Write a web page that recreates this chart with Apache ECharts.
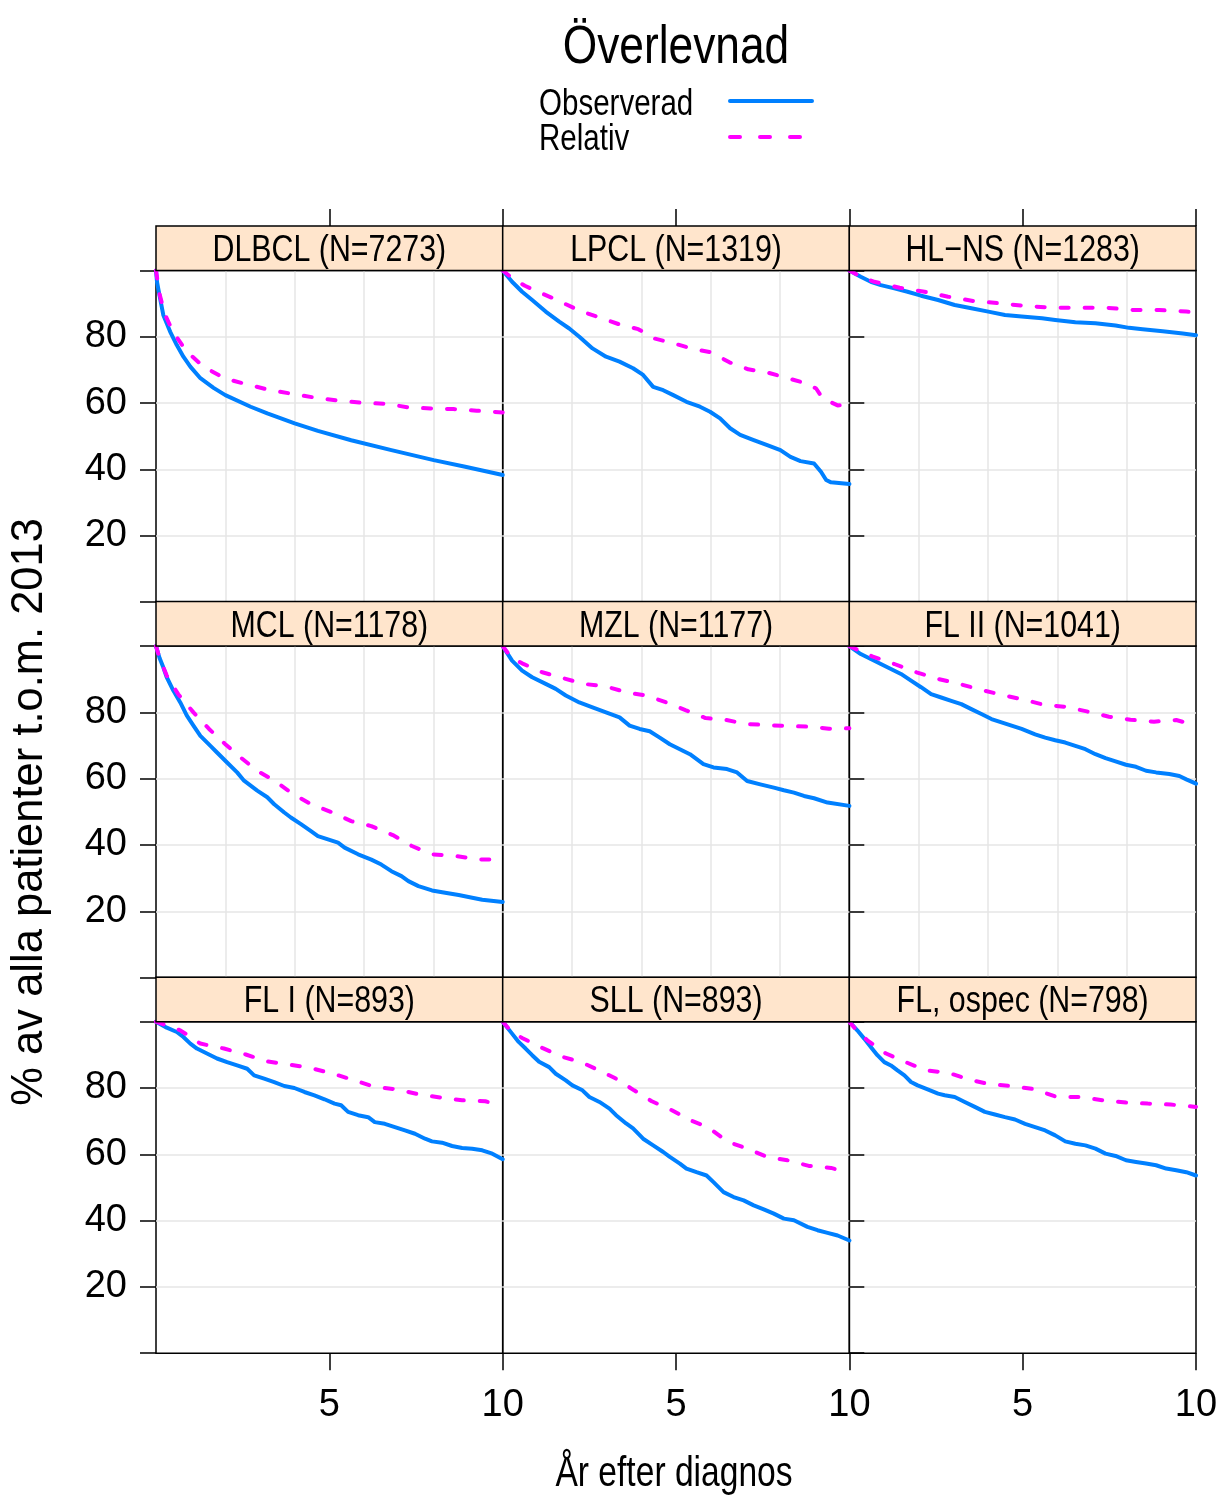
<!DOCTYPE html>
<html><head><meta charset="utf-8">
<script src="https://cdn.jsdelivr.net/npm/echarts@6.0.0/dist/echarts.min.js"></script>
<style>html,body{margin:0;padding:0;background:#fff}#chart{width:1218px;height:1495px}</style>
</head><body><div id="chart"></div>
<script>
// ---------- data ----------
const chartTitle = 'Överlevnad';
const legendNames = ['Observerad', 'Relativ'];
const xTitle = 'År efter diagnos';
const yTitle = '% av alla patienter t.o.m. 2013';
const panelLabels = ['DLBCL (N=7273)', 'LPCL (N=1319)', 'HL\u2212NS (N=1283)',
                     'MCL (N=1178)', 'MZL (N=1177)', 'FL II (N=1041)',
                     'FL I (N=893)', 'SLL (N=893)', 'FL, ospec (N=798)'];
const xTickValues = [5, 10];
const yTickValues = [20, 40, 60, 80];

const dlbclObserved = [[0,100],[0.03,96.5],[0.1,92.6],[0.21,86.6],[0.41,81.5],[0.6,77.5],[0.79,74],[0.99,71],[1.28,67.5],[1.66,64.6],[2,62.4],[2.73,58.9],[3.21,56.9],[4,53.9],[4.67,51.6],[5.63,48.8],[6.79,45.8],[8.01,42.8],[8.92,40.8],[10,38.3]];
const dlbclRelative = [[0,100],[0.1,93],[0.25,87],[0.48,81.7],[0.87,75.7],[1.37,71],[1.97,67.5],[2.57,65.8],[3.25,64],[3.93,62.8],[4.61,61.6],[5.28,60.7],[5.96,60.1],[6.64,59.8],[7.28,58.7],[7.92,58.4],[8.58,58.2],[9.25,57.7],[10,57.2]];
const lpclObserved = [[0,100],[0.27,96.6],[0.56,93.6],[0.85,91.1],[1.24,87.6],[1.63,84.6],[1.92,82.5],[2.21,80],[2.59,76.5],[2.98,74],[3.37,72.5],[3.76,70.5],[4.05,68.5],[4.34,64.9],[4.63,63.9],[4.92,62.4],[5.3,60.4],[5.69,58.9],[5.98,57.4],[6.27,55.4],[6.56,52.4],[6.85,50.4],[7.24,48.8],[7.63,47.3],[8.01,45.8],[8.3,43.8],[8.59,42.5],[8.98,41.8],[9.18,39.3],[9.33,36.8],[9.47,36.1],[10,35.6]];
const lpclRelative = [[0,100],[0.3,97.5],[0.64,95.4],[1.1,93.2],[1.57,91.1],[2.17,88.1],[2.71,86.1],[3.35,83.8],[3.91,82.3],[4.37,79.5],[4.94,78],[5.44,76.5],[6.02,75.3],[6.54,72.3],[7.08,70.2],[7.65,69.2],[8.23,67.5],[8.77,65.9],[9.04,64.4],[9.23,61.4],[9.66,59.3],[10,59.6]];
const hlnsObserved = [[0,100],[0.33,98.1],[0.62,96.6],[0.91,95.6],[1.3,94.6],[1.68,93.6],[2.07,92.4],[2.56,91.1],[3.04,89.6],[3.52,88.6],[4.01,87.6],[4.49,86.6],[4.97,86.1],[5.56,85.6],[5.94,85.1],[6.52,84.4],[7.1,84.1],[7.68,83.4],[8.07,82.7],[8.46,82.3],[9.04,81.7],[9.62,81],[10,80.5]];
const hlnsRelative = [[0,100],[0.3,98.3],[0.72,96.6],[1.45,94.8],[2.17,93.6],[2.85,92.1],[3.58,90.8],[4.36,90.1],[5.07,89.3],[5.85,88.8],[6.62,88.8],[7.39,88.8],[8.17,88.1],[8.94,88.1],[9.72,87.6],[10,87.4]];
const mclObserved = [[0,100],[0.1,96.5],[0.21,93.6],[0.31,90.6],[0.5,86.6],[0.7,83],[0.89,79],[1.08,76],[1.28,72.9],[1.57,69.9],[1.76,67.9],[2.05,64.9],[2.34,61.9],[2.54,59.4],[2.92,56.4],[3.21,54.4],[3.41,52.3],[3.7,49.8],[3.89,48.3],[4.18,46.3],[4.47,44.2],[4.67,42.7],[4.96,41.7],[5.25,40.7],[5.44,39.2],[5.83,37.2],[6.21,35.6],[6.5,34.1],[6.79,32.1],[7.08,30.6],[7.28,29.1],[7.57,27.6],[7.96,26.3],[8.34,25.6],[8.73,24.9],[9.12,24.1],[9.41,23.5],[10,22.8]];
const mclRelative = [[0,100],[0.1,96.5],[0.31,91.1],[0.64,85.5],[1.08,80],[1.53,75],[1.99,70.5],[2.44,66.4],[2.92,62.4],[3.41,59.4],[3.95,55.4],[4.47,52.3],[5.09,49.8],[5.63,47.2],[6.21,45.7],[6.83,43],[7.38,39.7],[7.96,37.2],[8.63,36.7],[9.31,35.6],[10,35.6]];
const mzlObserved = [[0,100],[0.27,95.6],[0.56,92.6],[0.85,90.6],[1.24,88.6],[1.53,87.1],[1.82,85.1],[2.21,83],[2.59,81.5],[2.98,80],[3.37,78.5],[3.66,76],[3.95,75],[4.24,74.3],[4.53,72.4],[4.82,70.4],[5.11,68.9],[5.4,67.4],[5.79,64.4],[6.08,63.4],[6.47,62.9],[6.76,61.9],[7.05,59.3],[7.43,58.3],[7.82,57.3],[8.11,56.5],[8.4,55.8],[8.69,54.8],[8.98,54.1],[9.37,52.8],[10,51.8]];
const mzlRelative = [[0,100],[0.25,96.5],[0.56,94.8],[1.14,92.1],[1.72,90.4],[2.34,88.6],[2.98,87.8],[3.6,86],[4.18,85],[4.72,83],[5.27,80.7],[5.85,78.3],[6.41,77.8],[7.01,76.5],[7.59,76.2],[8.21,75.9],[8.83,75.7],[9.41,75.1],[10,75.2]];
const fl2Observed = [[0,100],[0.33,97.6],[0.62,96.1],[0.91,94.6],[1.2,93.1],[1.49,91.6],[1.78,89.6],[2.07,87.6],[2.36,85.5],[2.65,84.5],[2.94,83.5],[3.23,82.5],[3.52,81],[3.81,79.5],[4.1,78],[4.39,77],[4.68,76],[4.97,75],[5.36,73.4],[5.65,72.4],[5.94,71.6],[6.23,70.9],[6.52,69.9],[6.81,68.9],[7.1,67.4],[7.39,66.2],[7.68,65.2],[7.98,64.2],[8.27,63.6],[8.56,62.4],[8.85,61.9],[9.23,61.4],[9.52,60.8],[9.72,59.8],[10,58.5]];
const fl2Relative = [[0,100],[0.68,96.8],[1.3,94.6],[1.94,92.1],[2.56,90.1],[3.17,88.6],[3.77,86.9],[4.39,85.3],[5.01,83.9],[5.61,82.3],[6.23,81.7],[6.85,80.3],[7.49,78.7],[8.11,77.8],[8.79,77.2],[9.43,77.7],[10,76]];
const fl1Observed = [[0,100],[0.31,98.2],[0.6,96.9],[0.79,95.4],[0.99,93.4],[1.18,91.9],[1.47,90.4],[1.76,88.9],[2.05,87.8],[2.34,86.8],[2.63,85.8],[2.83,83.8],[3.12,82.8],[3.41,81.8],[3.7,80.6],[3.99,80],[4.28,78.8],[4.57,77.8],[4.86,76.6],[5.15,75.3],[5.34,74.8],[5.54,72.8],[5.83,71.8],[6.12,71.2],[6.31,69.7],[6.6,69.2],[6.89,68.2],[7.18,67.2],[7.47,66.2],[7.76,64.7],[7.96,63.9],[8.25,63.5],[8.54,62.5],[8.83,61.9],[9.12,61.7],[9.41,61.2],[9.7,60.2],[10,58.5]];
const fl1Relative = [[0,100],[0.7,97.4],[1.28,93.4],[1.96,91.9],[2.59,90.1],[3.21,88],[3.89,87],[4.47,86],[5.11,84.3],[5.73,82.3],[6.31,80.3],[6.95,79.6],[7.57,78.1],[8.21,77.1],[8.83,76.3],[9.5,76],[10,74.6]];
const sllObserved = [[0,100],[0.27,96.4],[0.46,93.9],[0.66,91.9],[0.85,89.9],[1.05,87.9],[1.34,86.3],[1.53,84.3],[1.82,82.3],[2.01,80.8],[2.3,79.3],[2.5,77.3],[2.79,75.8],[3.08,73.8],[3.27,71.8],[3.56,69.3],[3.76,67.8],[4.05,64.7],[4.34,62.7],[4.63,60.7],[4.82,59.2],[5.11,57.2],[5.3,55.7],[5.59,54.6],[5.88,53.6],[6.08,51.6],[6.37,48.6],[6.66,47.1],[6.95,46.1],[7.24,44.6],[7.53,43.4],[7.82,42.1],[8.11,40.6],[8.4,40.1],[8.79,38.1],[9.08,37.1],[9.37,36.3],[9.66,35.5],[10,34]];
const sllRelative = [[0,100],[0.25,97],[0.56,95.1],[1.14,92.1],[1.72,89.4],[2.26,87.8],[2.79,85.3],[3.27,82.8],[3.79,79.3],[4.3,76],[4.88,73.3],[5.4,70.3],[5.92,68.2],[6.47,63.9],[7.05,61.7],[7.63,59.2],[8.21,58.2],[8.83,56.5],[9.47,55.9],[10,54.4]];
const flospecObserved = [[0,100],[0.23,97.4],[0.43,94.9],[0.62,92.4],[0.81,89.9],[1.01,87.8],[1.2,86.8],[1.39,85.3],[1.59,83.8],[1.78,81.8],[1.97,80.8],[2.26,79.6],[2.56,78.3],[2.75,77.8],[3.04,77.3],[3.33,75.8],[3.62,74.3],[3.91,72.8],[4.2,72],[4.49,71.2],[4.78,70.5],[5.07,69.2],[5.36,68.2],[5.65,67.2],[5.94,65.7],[6.23,63.9],[6.52,63.2],[6.81,62.7],[7.1,61.7],[7.39,60.2],[7.68,59.5],[7.98,58.2],[8.27,57.7],[8.56,57.2],[8.85,56.7],[9.14,55.7],[9.43,55.2],[9.72,54.6],[10,53.6]];
const flospecRelative = [[0,100],[0.2,97.5],[0.52,94.4],[1.06,90.4],[1.63,87.8],[2.21,85.3],[2.85,84.6],[3.47,82.5],[4.07,81.1],[4.68,80.6],[5.36,79.6],[5.98,77.3],[6.68,77.3],[7.3,76.3],[7.98,75.6],[8.61,75.3],[9.27,75],[10,74.3]];

const panelSeries = [
  [dlbclObserved, dlbclRelative], [lpclObserved, lpclRelative], [hlnsObserved, hlnsRelative],
  [mclObserved, mclRelative], [mzlObserved, mzlRelative], [fl2Observed, fl2Relative],
  [fl1Observed, fl1Relative], [sllObserved, sllRelative], [flospecObserved, flospecRelative]
];

// ---------- layout / style ----------
const FONT = "'Liberation Sans', Arial, sans-serif";
const NARROW = 0.82;              // horizontal squeeze imitating a narrow face
const BLUE = '#0080ff', MAG = '#ff00ff', STRIP_BG = '#ffe5cc', GRIDC = '#e6e6e6';
const COL_LEFT = [156, 502.7, 849.3], PW = 346.7;
const ROW_TOP = [270.5, 646.1, 1021.7], PH = 331.5, STRIP = 44.5;
const TICK = {color: '#000', width: 1.5};
const REL_DASH = [8, 16];

function narrowText(text, x, y, size, align, squeeze) {
  return {type: 'text', x: x, y: y, scaleX: squeeze || NARROW, z: 11, silent: true,
    style: {text: text, fill: '#000', fontSize: size, fontFamily: FONT, align: align || 'center', verticalAlign: 'middle'}};
}

const grids = [], xAxes = [], yAxes = [], series = [], graphics = [];
panelLabels.forEach((label, i) => {
  const r = Math.floor(i / 3), c = i % 3;
  grids.push({left: COL_LEFT[c], top: ROW_TOP[r], width: PW, height: PH, show: true,
    borderColor: '#000', borderWidth: 1.5, backgroundColor: 'rgba(0,0,0,0)', outerBoundsMode: 'none', containLabel: false});
  const xi = xAxes.length;
  xAxes.push({gridIndex: i, type: 'value', min: 0, max: 10, interval: 2, position: 'bottom',
    axisLine: {show: false},
    splitLine: {show: true, showMinLine: false, showMaxLine: false, lineStyle: {color: GRIDC, width: 1.5}},
    axisTick: r === 2 ? {show: true, customValues: xTickValues, length: 17, lineStyle: TICK} : {show: false},
    axisLabel: r === 2 ? {show: true, customValues: xTickValues, margin: 33, color: '#000', fontSize: 38, fontFamily: FONT} : {show: false}});
  if (r === 0) {
    xAxes.push({gridIndex: i, type: 'value', min: 0, max: 10, interval: 5, position: 'top', offset: STRIP,
      axisLine: {show: false}, splitLine: {show: false},
      axisTick: {show: true, customValues: xTickValues, length: 17, lineStyle: TICK},
      axisLabel: {show: false}});
  }
  const yi = yAxes.length;
  yAxes.push({gridIndex: i, type: 'value', min: 0, max: 100, interval: 20, position: c === 2 ? 'right' : 'left',
    axisLine: {show: false},
    splitLine: {show: true, showMinLine: false, showMaxLine: false, lineStyle: {color: GRIDC, width: 1.5}},
    axisTick: c !== 1 ? {show: true, length: c === 0 ? 16 : 15, lineStyle: TICK} : {show: false},
    axisLabel: c === 0 ? {show: true, customValues: yTickValues, margin: 29, color: '#000', fontSize: 38, fontFamily: FONT} : {show: false},
    name: i === 3 ? yTitle : '', nameLocation: 'middle', nameGap: 104, nameRotate: 90,
    nameTextStyle: {color: '#000', fontSize: 43.5, fontFamily: FONT}});
  series.push({type: 'line', name: legendNames[0], xAxisIndex: xi, yAxisIndex: yi, data: panelSeries[i][0],
    symbol: 'none', showSymbol: false, lineStyle: {color: BLUE, width: 4, cap: 'round', join: 'round'}, itemStyle: {color: BLUE}, z: 3});
  series.push({type: 'line', name: legendNames[1], xAxisIndex: xi, yAxisIndex: yi, data: panelSeries[i][1],
    symbol: 'none', showSymbol: false, lineStyle: {color: MAG, width: 4, type: REL_DASH, cap: 'round'}, itemStyle: {color: MAG}, z: 4});
  graphics.push({type: 'rect', shape: {x: COL_LEFT[c], y: ROW_TOP[r] - STRIP, width: PW, height: STRIP},
    style: {fill: STRIP_BG, stroke: '#000', lineWidth: 1.5}, z: 10, silent: true});
  graphics.push(narrowText(label, COL_LEFT[c] + PW / 2, ROW_TOP[r] - STRIP / 2 + 2.5, 37));
});

// title, legend (text left, line sample right) and x-axis title
graphics.push(narrowText(chartTitle, 676, 48.5, 54));
graphics.push(narrowText(legendNames[0], 539, 105, 36, 'left'));
graphics.push(narrowText(legendNames[1], 539, 140.5, 36, 'left'));
graphics.push({type: 'line', shape: {x1: 730, y1: 101, x2: 812, y2: 101}, silent: true, z: 11,
  style: {stroke: BLUE, lineWidth: 4, lineCap: 'round'}});
graphics.push({type: 'line', shape: {x1: 730, y1: 137, x2: 801, y2: 137}, silent: true, z: 11,
  style: {stroke: MAG, lineWidth: 4, lineCap: 'round', lineDash: [10, 20]}});
graphics.push(narrowText(xTitle, 674, 1474.5, 42, 'center', 0.8));

const chart = echarts.init(document.getElementById('chart'), null, {renderer: 'canvas', width: 1218, height: 1495});
chart.setOption({
  animation: false,
  backgroundColor: '#fff',
  grid: grids, xAxis: xAxes, yAxis: yAxes, series: series,
  graphic: graphics
});
</script></body></html>
